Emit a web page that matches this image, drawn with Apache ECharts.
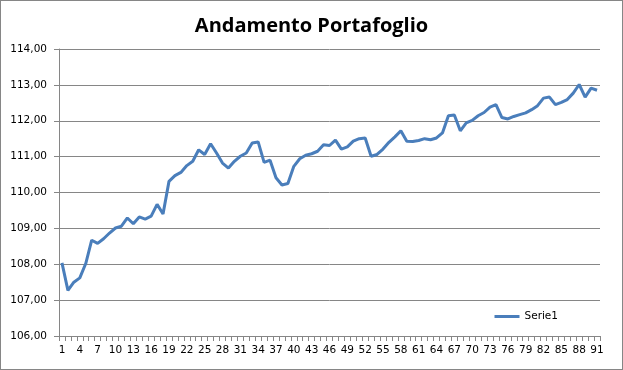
<!DOCTYPE html>
<html>
<head>
<meta charset="utf-8">
<script src="https://cdn.jsdelivr.net/npm/echarts@6/dist/echarts.min.js"></script>
<style>
html,body{margin:0;padding:0;background:#fff;}
#c{position:absolute;left:0;top:0;width:621px;height:368px;border:1px solid #868686;}
</style>
</head>
<body>
<div id="c"></div>
<script>
var titleText = "Andamento Portafoglio";
var seriesName = "Serie1";
var categories = [];
for (var k = 1; k <= 91; k++) categories.push(String(k));
var values = [
108.04,107.27,107.50,107.62,108.02,108.67,108.58,108.71,108.87,109.01,
109.06,109.29,109.13,109.32,109.26,109.34,109.67,109.40,110.31,110.47,
110.56,110.75,110.87,111.19,111.06,111.36,111.10,110.82,110.68,110.87,
111.01,111.10,111.38,111.41,110.84,110.90,110.41,110.21,110.25,110.73,
110.94,111.04,111.08,111.15,111.33,111.31,111.46,111.21,111.27,111.43,
111.50,111.52,111.01,111.06,111.21,111.40,111.55,111.72,111.43,111.42,
111.45,111.50,111.47,111.52,111.66,112.14,112.16,111.72,111.94,112.01,
112.14,112.23,112.38,112.45,112.09,112.05,112.12,112.17,112.22,112.31,
112.42,112.63,112.66,112.45,112.51,112.59,112.77,113.01,112.66,112.91,
112.85
];
var yMin = 106, yMax = 114, yStep = 1;

var chart = echarts.init(document.getElementById('c'), null, {renderer:'canvas'});
chart.setOption({
  animation:false,
  backgroundColor:'#fff',
  title:{text:titleText,left:'center',top:10,
    textStyle:{fontFamily:'Open Sans',fontWeight:'bold',fontSize:20,color:'#000'}},
  legend:{data:[seriesName],right:59,top:305,itemWidth:25,itemHeight:3,icon:'rect',
    textStyle:{fontFamily:'DejaVu Sans',fontSize:10.5,color:'#000'},itemGap:5},
  grid:{left:58,right:22,top:48,bottom:33},
  xAxis:{type:'category',data:categories,boundaryGap:true,
    axisLine:{lineStyle:{color:'#868686',width:1}},
    axisTick:{show:true,interval:0,length:5,lineStyle:{color:'#868686'}},
    axisLabel:{interval:2,margin:9,fontFamily:'DejaVu Sans',fontSize:10.5,color:'#000'},
    splitLine:{show:false}},
  yAxis:{type:'value',min:yMin,max:yMax,interval:yStep,
    axisLine:{show:true,lineStyle:{color:'#868686',width:1}},
    axisTick:{show:true,length:5,lineStyle:{color:'#868686'}},
    axisLabel:{margin:12,fontFamily:'DejaVu Sans',fontSize:10.5,color:'#000',
      formatter:function(v){return v.toFixed(2).replace('.',',');}},
    splitLine:{show:true,lineStyle:{color:'#868686',width:1}}},
  series:[{name:seriesName,type:'line',data:values,showSymbol:false,symbol:'none',
    lineStyle:{color:'#4a7ebb',width:3},itemStyle:{color:'#4a7ebb'}}]
});
</script>
</body>
</html>
